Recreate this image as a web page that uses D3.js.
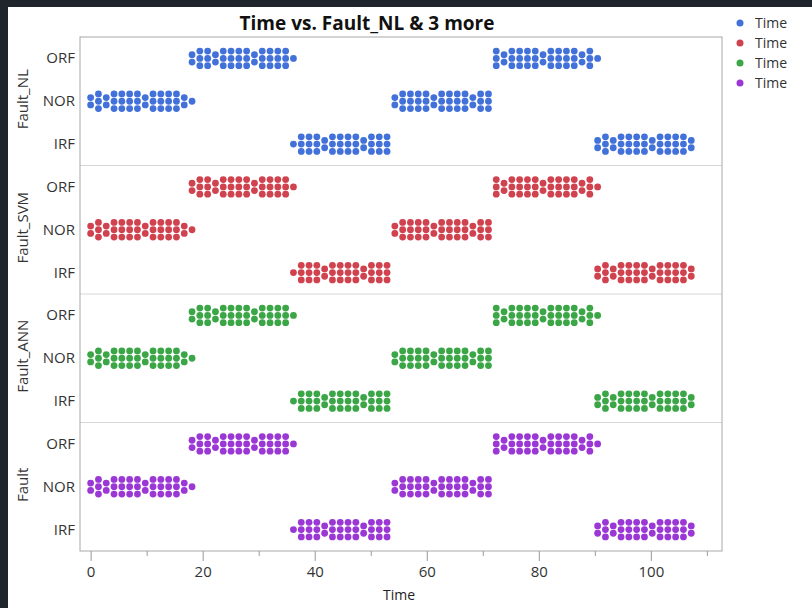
<!DOCTYPE html>
<html>
<head>
<meta charset="utf-8">
<script src="https://cdn.jsdelivr.net/npm/d3@7/dist/d3.min.js"></script>
<style>
    body { margin: 0; background: #1f252b; }
    text { font-family: "Open Sans", "Noto Sans", sans-serif; }
</style>
</head>
<body>
<svg id="chart" width="812" height="608"></svg>
<script>
// 纵轴类别 (从上到下)
const faultLevels = ['ORF', 'NOR', 'IRF']
// 每个面板的名字和颜色
const panelNames = ['Fault_NL', 'Fault_SVM', 'Fault_ANN', 'Fault']
const panelColors = ['#4271d9', '#d1424f', '#3ba646', '#9b38d5']

// Time 分段: 每段的起止时间 (每 0.5 一个样本)
const blockStart = [0, 18, 36.5, 54, 72, 90.5]
const blockEnd = [17.5, 36, 53.5, 71.5, 90, 107.5]
const timeStep = 0.5

// 每个模型在各段给出的类别
const faultNL = ['NOR', 'ORF', 'IRF', 'NOR', 'ORF', 'IRF']
const faultSVM = ['NOR', 'ORF', 'IRF', 'NOR', 'ORF', 'IRF']
const faultANN = ['NOR', 'ORF', 'IRF', 'NOR', 'ORF', 'IRF']
const fault = ['NOR', 'ORF', 'IRF', 'NOR', 'ORF', 'IRF']
const panelBlocks = [faultNL, faultSVM, faultANN, fault]

// 横轴刻度
const majorTicks = [0, 20, 40, 60, 80, 100]
const minorTicks = [10, 30, 50, 70, 90, 110]
const xDomain = [-1.9, 112.7]

const svg = d3.select('#chart')
const plot = { left: 80, top: 37, right: 722, bottom: 551 }
const panelH = (plot.bottom - plot.top) / panelNames.length
const dotR = 3.4
const binW = 7.8
const rowGap = 7.3

// 白色底板
svg.append('rect')
    .attr('x', 8).attr('y', 7)
    .attr('width', 804).attr('height', 601)
    .attr('fill', '#ffffff')

const x = d3.scaleLinear().domain(xDomain).range([plot.left, plot.right])

// 标题
svg.append('text')
    .attr('x', 367).attr('y', 30)
    .attr('text-anchor', 'middle')
    .attr('font-size', '19px')
    .attr('font-weight', 'bold')
    .attr('fill', '#111')
    .text('Time vs. Fault_NL & 3 more')

// 把数据拆成点
function buildPoints(blocks, p) {
    const pts = []
    blocks.forEach((cls, i) => {
        d3.range(blockStart[i], blockEnd[i] + timeStep / 2, timeStep).forEach((t) => {
            pts.push({ time: t, cls, panel: p })
        })
    })
    return pts
}

// 网格抖动: 按像素分箱, 同箱的点竖着排开
function gridJitter(pts, y) {
    const anchor = x(0) - binW / 2
    const groups = d3.group(pts, d => d.cls, d => Math.floor((x(d.time) - anchor) / binW))
    groups.forEach((bins) => {
        bins.forEach((arr, idx) => {
            const n = arr.length
            arr.forEach((d, i) => {
                d.px = anchor + (idx + 0.5) * binW
                d.py = y(d.cls) + (i - (n - 1) / 2) * rowGap
            })
        })
    })
    return pts
}

panelNames.forEach((name, p) => {
    const top = plot.top + p * panelH
    const y = d3.scalePoint().domain(faultLevels)
        .range([top + panelH / 6, top + panelH * 5 / 6])
    const g = svg.append('g').attr('class', 'panel')

    // 面板分隔线
    if (p > 0) {
        g.append('line')
            .attr('x1', plot.left).attr('x2', plot.right)
            .attr('y1', top).attr('y2', top)
            .attr('stroke', '#d6d6d6')
    }

    // 纵轴类别标签
    g.selectAll('.ylab')
        .data(faultLevels)
        .enter()
        .append('text')
        .attr('class', 'ylab')
        .attr('x', 75)
        .attr('y', d => y(d) + 5)
        .attr('text-anchor', 'end')
        .attr('font-size', '15px')
        .attr('fill', '#333')
        .text(d => d)

    // 面板名字(竖排)
    g.append('text')
        .attr('transform', `translate(28, ${top + panelH / 2 - 2}) rotate(-90)`)
        .attr('text-anchor', 'middle')
        .attr('font-size', '15px')
        .attr('fill', '#333')
        .text(name)

    const pts = gridJitter(buildPoints(panelBlocks[p], p), y)
    g.selectAll('circle')
        .data(pts)
        .enter()
        .append('circle')
        .attr('cx', d => d.px)
        .attr('cy', d => d.py)
        .attr('r', dotR)
        .attr('fill', panelColors[p])
})

// 外框
svg.append('rect')
    .attr('x', plot.left).attr('y', plot.top)
    .attr('width', plot.right - plot.left)
    .attr('height', plot.bottom - plot.top)
    .attr('fill', 'none')
    .attr('stroke', '#a8a8a8')

// 横轴
const axisG = svg.append('g')
    .attr('transform', `translate(0, ${plot.bottom})`)
    .call(d3.axisBottom(x).tickValues(majorTicks).tickSize(10).tickPadding(5))
axisG.select('.domain').remove()
axisG.selectAll('.tick line').attr('stroke', '#999')
axisG.selectAll('.tick text')
    .attr('font-size', '15px')
    .attr('font-family', '"Open Sans", "Noto Sans", sans-serif')
    .attr('fill', '#333')

const minorG = svg.append('g')
    .attr('transform', `translate(0, ${plot.bottom})`)
    .call(d3.axisBottom(x).tickValues(minorTicks).tickSize(5).tickFormat(''))
minorG.select('.domain').remove()
minorG.selectAll('.tick line').attr('stroke', '#999')

svg.append('text')
    .attr('x', 399).attr('y', 600)
    .attr('text-anchor', 'middle')
    .attr('font-size', '14px')
    .attr('fill', '#222')
    .text('Time')

// 图例
const legend = svg.append('g')
    .selectAll('g')
    .data(panelColors)
    .enter()
    .append('g')
    .attr('transform', (d, i) => `translate(740, ${23 + i * 20})`)
legend.append('circle').attr('r', 3.5).attr('fill', d => d)
legend.append('text')
    .attr('x', 15).attr('y', 5)
    .attr('font-size', '14px')
    .attr('fill', '#333')
    .text('Time')
</script>
</body>
</html>
